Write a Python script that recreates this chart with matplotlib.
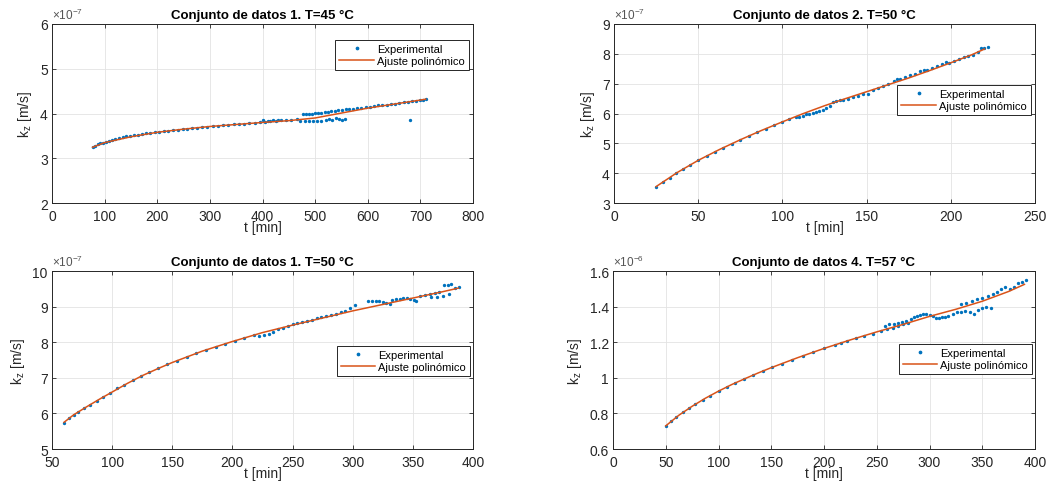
import matplotlib
matplotlib.use("Agg")
import matplotlib.pyplot as plt
from matplotlib.ticker import FuncFormatter, MultipleLocator

plt.rcParams['font.family'] = ['Liberation Sans', 'DejaVu Sans']
plt.rcParams['mathtext.fontset'] = 'custom'
plt.rcParams['mathtext.rm'] = 'Liberation Sans'
plt.rcParams['mathtext.it'] = 'Liberation Sans:italic'
plt.rcParams['mathtext.bf'] = 'Liberation Sans:bold'

BLUE = '#0072BD'
ORANGE = '#D95319'
DARK = '#262626'

# ---------------- Panel 1: Conjunto de datos 1, T=45 C (x1e-7) ----------------
exp1_t = [77, 82, 87, 92, 97, 102, 108, 114, 120, 127, 134, 141, 148, 155, 163, 171,
          179, 187, 195, 203, 212, 221, 230, 239, 248, 257, 266, 275, 285, 295, 305,
          315, 325, 335, 345, 355, 365, 375, 385, 395, 405, 415, 425, 435, 445, 455,
          465, 477, 482, 488, 494, 500, 506, 512, 518, 524, 530, 537, 544, 551, 558,
          565, 572, 580, 588, 596, 604, 612, 620, 628, 636, 644, 652, 660, 668, 676,
          684, 692, 700, 705, 710,
          400, 410, 420, 430, 472, 480, 488, 496, 504, 512, 520, 527, 533, 540, 546, 552, 556,
          680]
exp1_k = [3.25, 3.28, 3.31, 3.33, 3.35, 3.37, 3.39, 3.41, 3.43, 3.45, 3.47, 3.49, 3.50, 3.52,
          3.53, 3.55, 3.56, 3.57, 3.58, 3.59, 3.61, 3.62, 3.63, 3.64, 3.65, 3.66, 3.67, 3.68,
          3.69, 3.70, 3.715, 3.725, 3.735, 3.745, 3.755, 3.765, 3.775, 3.785, 3.795, 3.805,
          3.815, 3.825, 3.835, 3.845, 3.855, 3.865, 3.875, 3.98, 3.99, 3.99, 4.00, 4.01,
          4.01, 4.02, 4.03, 4.04, 4.05, 4.06, 4.07, 4.08, 4.09, 4.10, 4.11, 4.12, 4.13,
          4.14, 4.15, 4.16, 4.18, 4.19, 4.20, 4.21, 4.22, 4.23, 4.25, 4.26, 4.27, 4.28,
          4.30, 4.31, 4.32,
          3.86, 3.84, 3.85, 3.85, 3.84, 3.83, 3.84, 3.83, 3.84, 3.84, 3.85, 3.88, 3.86,
          3.90, 3.87, 3.85, 3.88,
          3.85]
fit1_t = [77, 100, 150, 200, 250, 300, 350, 400, 450, 500, 550, 600, 650, 700, 710]
fit1_k = [3.245, 3.35, 3.48, 3.58, 3.65, 3.71, 3.755, 3.80, 3.84, 3.90, 4.01, 4.12, 4.21, 4.30, 4.32]

# ---------------- Panel 2: Conjunto de datos 2, T=50 C (x1e-7) ----------------
exp2_t = [25, 29, 33, 37, 41, 45, 50, 55, 60, 65, 70, 75, 80, 85, 90, 95, 100, 104,
          108, 110, 112, 114, 116, 118, 120, 122, 124, 126, 128, 130, 132, 134, 136,
          139, 142, 145, 148, 151, 154, 157, 160, 163, 166, 168, 170, 173, 176, 179,
          182, 184, 186, 189, 192, 195, 197, 199, 202, 205, 208, 210, 213, 216, 218,
          220, 222]
exp2_k = [3.55, 3.70, 3.85, 4.00, 4.14, 4.28, 4.43, 4.58, 4.72, 4.86, 4.99, 5.12, 5.25,
          5.37, 5.49, 5.61, 5.72, 5.81, 5.89, 5.88, 5.90, 5.97, 6.00, 6.02, 6.05, 6.08,
          6.12, 6.17, 6.24, 6.38, 6.42, 6.44, 6.45, 6.50, 6.55, 6.60, 6.65, 6.65, 6.78,
          6.85, 6.92, 6.99, 7.08, 7.15, 7.15, 7.22, 7.28, 7.34, 7.42, 7.45, 7.46, 7.52,
          7.58, 7.65, 7.72, 7.70, 7.76, 7.83, 7.90, 7.94, 7.96, 8.05, 8.18, 8.20, 8.24]
fit2_t = [25, 37.5, 50, 62.5, 75, 87.5, 100, 112.5, 125, 137.5, 150, 162.5, 175, 187.5,
          200, 212.5, 220]
fit2_k = [3.55, 4.02, 4.43, 4.79, 5.12, 5.43, 5.72, 6.00, 6.26, 6.50, 6.73, 6.96, 7.19,
          7.44, 7.70, 7.97, 8.16]

# ---------------- Panel 3: Conjunto de datos 1, T=50 C (x1e-7) ----------------
exp3_t = [60, 64, 68, 72, 77, 82, 87, 92, 98, 104, 110, 117, 124, 131, 138, 146, 154,
          162, 170, 178, 186, 194, 202, 210, 218, 222, 226, 230, 234, 238, 242, 246,
          250, 254, 258, 262, 266, 270, 274, 278, 282, 286, 290, 294, 298, 302,
          313, 316, 319, 322, 325, 328, 331, 333, 336, 339, 342, 345, 348, 351, 353,
          356, 360, 364, 368, 372, 376, 379, 382, 385, 388,
          365, 370, 375, 380]
exp3_k = [5.74, 5.86, 5.96, 6.05, 6.15, 6.25, 6.36, 6.46, 6.58, 6.70, 6.81, 6.94, 7.06,
          7.16, 7.27, 7.38, 7.48, 7.58, 7.69, 7.78, 7.87, 7.95, 8.04, 8.12, 8.21, 8.17,
          8.20, 8.24, 8.30, 8.36, 8.40, 8.45, 8.50, 8.55, 8.57, 8.60, 8.63, 8.67, 8.71,
          8.73, 8.76, 8.80, 8.85, 8.89, 8.95, 9.05,
          9.15, 9.16, 9.16, 9.15, 9.14, 9.11, 9.08, 9.18, 9.21, 9.22, 9.24, 9.24, 9.22,
          9.19, 9.16, 9.30, 9.32, 9.34, 9.38, 9.40, 9.60, 9.62, 9.64, 9.52, 9.54,
          9.27, 9.28, 9.30, 9.36]
fit3_t = [60, 68, 79, 90, 100, 112.5, 125, 137.5, 150, 175, 200, 225, 250, 275, 300,
          325, 350, 375, 388]
fit3_k = [5.75, 5.96, 6.19, 6.41, 6.60, 6.84, 7.06, 7.25, 7.43, 7.75, 8.02, 8.27, 8.48,
          8.68, 8.88, 9.06, 9.24, 9.42, 9.52]

# ---------------- Panel 4: Conjunto de datos 4, T=57 C (x1e-6) ----------------
exp4_t = [50, 55, 60, 66, 72, 78, 85, 92, 100, 108, 116, 124, 133, 142, 151, 160, 170,
          180, 190, 200, 210, 216, 222, 230, 238, 246, 254, 260, 265, 270, 275, 280,
          258, 262, 266, 270, 274, 278, 282, 285, 288, 291, 294, 297, 300, 303, 306,
          309, 312, 315, 318, 322, 326, 330, 334, 338, 342, 346, 350, 354, 358,
          330, 335, 340, 345, 350, 355, 360, 364, 368, 372, 376, 380, 384, 388, 391]
exp4_k = [0.73, 0.755, 0.78, 0.807, 0.83, 0.852, 0.876, 0.90, 0.925, 0.949, 0.972, 0.993,
          1.016, 1.038, 1.059, 1.08, 1.102, 1.123, 1.145, 1.165, 1.184, 1.196, 1.207,
          1.222, 1.236, 1.248, 1.262, 1.272, 1.28, 1.29, 1.30, 1.31,
          1.29, 1.30, 1.30, 1.31, 1.315, 1.32, 1.33, 1.34, 1.35, 1.355, 1.36, 1.36,
          1.355, 1.35, 1.335, 1.335, 1.34, 1.34, 1.345, 1.36, 1.37, 1.37, 1.375, 1.37,
          1.36, 1.38, 1.39, 1.40, 1.39,
          1.415, 1.42, 1.43, 1.44, 1.45, 1.46, 1.47, 1.48, 1.50, 1.51, 1.50, 1.51, 1.53,
          1.54, 1.55]
fit4_t = [50, 62.5, 75, 87.5, 100, 112.5, 125, 137.5, 150, 175, 200, 225, 250, 275, 300,
          325, 350, 375, 390]
fit4_k = [0.73, 0.79, 0.84, 0.885, 0.925, 0.962, 0.995, 1.027, 1.057, 1.113, 1.165,
          1.213, 1.258, 1.30, 1.345, 1.385, 1.43, 1.485, 1.525]

titles = ['Conjunto de datos 1. T=45 °C', 'Conjunto de datos 2. T=50 °C',
          'Conjunto de datos 1. T=50 °C', 'Conjunto de datos 4. T=57 °C']

W, H = 1055, 485
fig = plt.figure(figsize=(W / 100, H / 100), dpi=100)
fig.patch.set_facecolor('white')


def px_axes(l, t, r, b):
    return fig.add_axes([l / W, 1 - b / H, (r - l) / W, (b - t) / H])


panels = [
    dict(box=(52, 25, 473, 204), exp=(exp1_t, exp1_k), fit=(fit1_t, fit1_k), scale=1e-7,
         exp_label=-7, xlim=(0, 800), xstep=100, ylim=(2, 6), ystep=1,
         leg=(0.99, 0.91)),
    dict(box=(614, 25, 1035, 204), exp=(exp2_t, exp2_k), fit=(fit2_t, fit2_k), scale=1e-7,
         exp_label=-7, xlim=(0, 250), xstep=50, ylim=(3, 9), ystep=1,
         leg=(0.99, 0.66)),
    dict(box=(52, 272, 473, 450), exp=(exp3_t, exp3_k), fit=(fit3_t, fit3_k), scale=1e-7,
         exp_label=-7, xlim=(50, 400), xstep=50, ylim=(5, 10), ystep=1,
         leg=(0.993, 0.58)),
    dict(box=(613, 272, 1035, 450), exp=(exp4_t, exp4_k), fit=(fit4_t, fit4_k), scale=1e-6,
         exp_label=-6, xlim=(0, 400), xstep=50, ylim=(0.6, 1.6), ystep=0.2,
         leg=(0.993, 0.59)),
]

for p, title in zip(panels, titles):
    ax = px_axes(*p['box'])
    s = p['scale']
    et, ek = p['exp']
    ft, fk = p['fit']
    ax.plot(et, [v * s for v in ek], linestyle='none', marker='.', markersize=2.8,
            color=BLUE, label='Experimental', zorder=3)
    ax.plot(ft, [v * s for v in fk], color=ORANGE, linewidth=1.1,
            label='Ajuste polinómico', zorder=4)
    ax.set_xlim(*p['xlim'])
    ax.set_ylim(p['ylim'][0] * s, p['ylim'][1] * s)
    ax.xaxis.set_major_locator(MultipleLocator(p['xstep']))
    ax.yaxis.set_major_locator(MultipleLocator(p['ystep'] * s))
    ax.yaxis.set_major_formatter(FuncFormatter(lambda v, pos, s=s: '%g' % round(v / s, 6)))
    ax.grid(True, color='#e3e3e3', linewidth=0.6, zorder=0)
    ax.set_axisbelow(True)
    ax.tick_params(direction='in', top=True, right=True, length=3, width=0.6,
                   labelsize=10, colors=DARK, pad=3)
    ax.tick_params(axis='x', pad=4)
    for sp in ax.spines.values():
        sp.set_color(DARK)
        sp.set_linewidth(0.7)
    ax.set_title(title, fontsize=9.5, fontweight='bold', color='black', pad=4)
    ax.set_xlabel('t [min]', fontsize=10, color=DARK, labelpad=-1.5)
    ax.set_ylabel(r'k$_\mathrm{z}$ [m/s]', fontsize=10, color=DARK, labelpad=4)
    ax.text(0.0, 1.012, r'$\times10^{%d}$' % p['exp_label'], transform=ax.transAxes,
            fontsize=8.5, color='#555555', ha='left', va='bottom')
    leg = ax.legend(loc='upper right', bbox_to_anchor=p['leg'], fontsize=8,
                    frameon=True, fancybox=False, edgecolor=DARK, framealpha=1,
                    borderpad=0.35, handlelength=3.1, handletextpad=0.3,
                    labelspacing=0.2, borderaxespad=0, markerscale=1.2)
    leg.get_frame().set_linewidth(0.7)

fig.savefig('out.png', dpi=100, facecolor='white')
